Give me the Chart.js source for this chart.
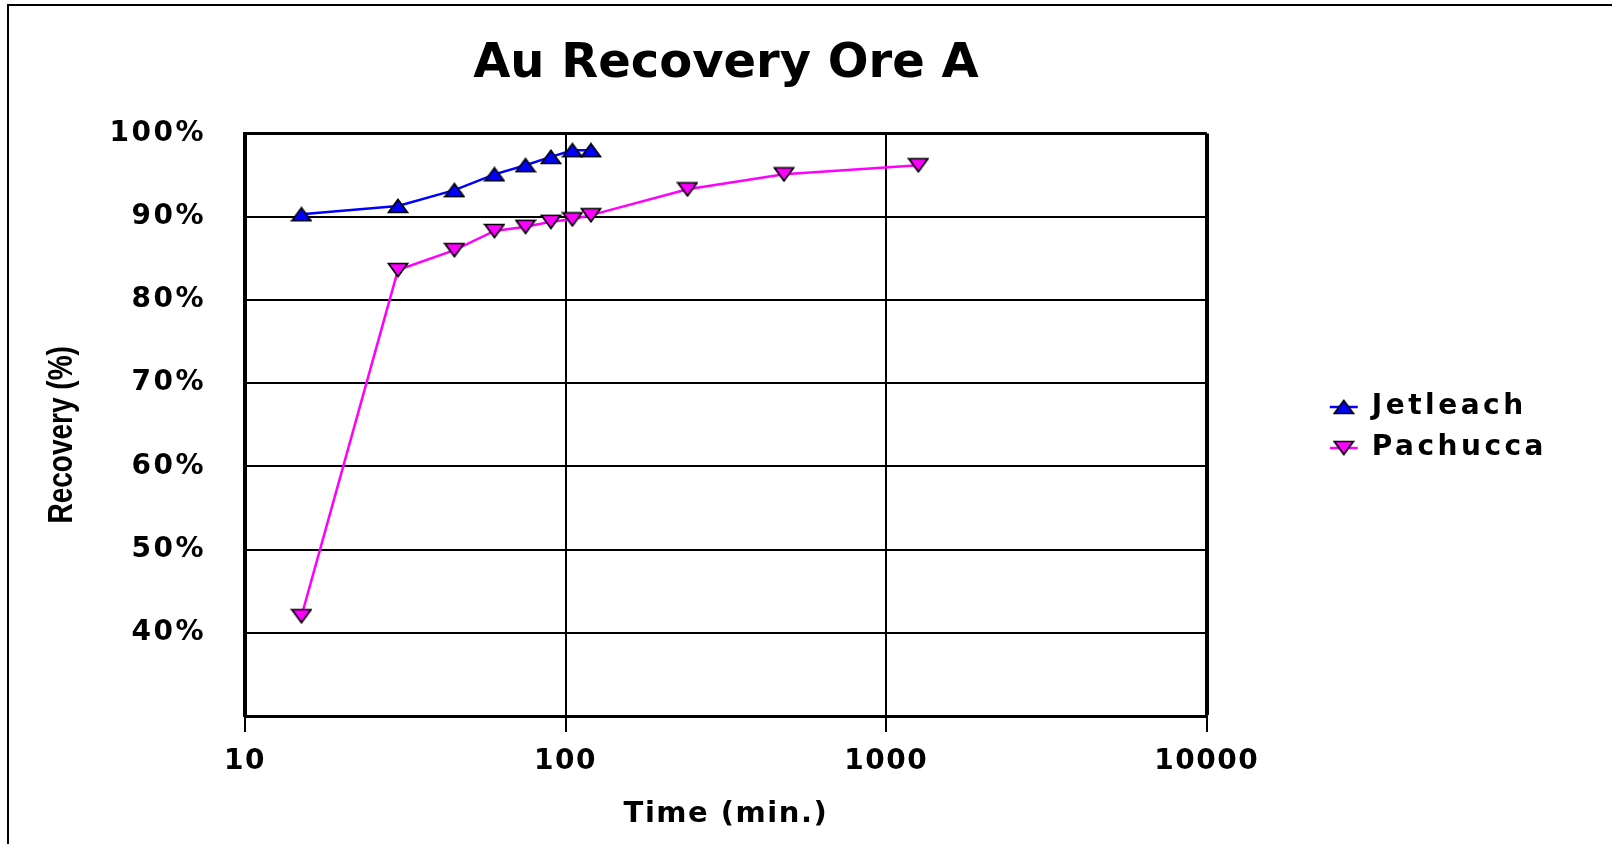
<!DOCTYPE html>
<html><head><meta charset="utf-8">
<script src="https://cdn.jsdelivr.net/npm/chart.js@4/dist/chart.umd.min.js"></script>
<style>html,body{margin:0;padding:0;background:#fff;overflow:hidden}canvas{display:block}</style>
</head><body>
<canvas id="c" width="1612" height="844"></canvas>
<script>
const chartTitle = 'Au Recovery Ore A';
const xAxisTitle = 'Time (min.)';
const yAxisTitle = 'Recovery (%)';
const seriesNames = ['Jetleach', 'Pachucca'];
const jetleachTimes = [15, 30, 45, 60, 75, 90, 105, 120];
const jetleachRecovery = [90.3, 91.3, 93.2, 95.1, 96.2, 97.2, 98.0, 98.0];
const pachuccaTimes = [15, 30, 45, 60, 75, 90, 105, 120, 240, 480, 1260];
const pachuccaRecovery = [42.0, 83.6, 86.0, 88.3, 88.8, 89.4, 89.7, 90.2, 93.3, 95.1, 96.2];
const xTickValues = [10, 100, 1000, 10000];
const yTickValues = [30, 40, 50, 60, 70, 80, 90, 100];

Chart.defaults.font.family = "'DejaVu Sans', sans-serif";
Chart.defaults.font.weight = 'bold';
Chart.defaults.color = '#000';

// marker images: triangle centred in its bounding box (as in the source chart)
function triangleMarker(fill, down) {
  const w = 22, h = 16;
  const cv = document.createElement('canvas');
  cv.width = w; cv.height = h;
  const c = cv.getContext('2d');
  c.beginPath();
  if (down) { c.moveTo(1.5, 1.5); c.lineTo(w - 1.5, 1.5); c.lineTo(w / 2, h - 1.5); }
  else { c.moveTo(w / 2, 1.5); c.lineTo(w - 1.5, h - 1.5); c.lineTo(1.5, h - 1.5); }
  c.closePath();
  c.fillStyle = fill; c.fill();
  c.lineWidth = 1.7; c.strokeStyle = '#000'; c.lineJoin = 'miter'; c.stroke();
  return cv;
}
const upMarker = triangleMarker('#0000ff', false);
const downMarker = triangleMarker('#ff00ff', true);

const LEGEND_SHIFT = 3;

function withSpacing(obj, method, ctx, spacing, pre) {
  const orig = obj[method].bind(obj);
  obj[method] = function (...args) {
    ctx.save();
    if ('letterSpacing' in ctx) ctx.letterSpacing = spacing;
    if (pre) pre(ctx, obj);
    const r = orig(...args);
    ctx.restore();
    return r;
  };
}

const framePlugin = {
  id: 'frame',
  afterInit(chart) {
    const leg = chart.legend;
    if (leg) {
      withSpacing(leg, 'fit', chart.ctx, '3.5px');
      withSpacing(leg, 'draw', chart.ctx, '3.5px', c => c.translate(0, LEGEND_SHIFT));
    }
  },
  beforeDraw(chart) {
    const ctx = chart.ctx;
    const xs = chart.scales.x, ys = chart.scales.y;
    if (xs && !xs._lsPatched) {
      withSpacing(xs, 'drawTitle', ctx, '1.5px');
      withSpacing(xs, 'drawLabels', ctx, '1.5px');
      xs._lsPatched = true;
    }
    if (ys && !ys._lsPatched) {
      withSpacing(ys, 'drawLabels', ctx, '2.5px');
      withSpacing(ys, 'drawTitle', ctx, '0px', (c, s) => {
        const cx = s.left + 36 + 28 * 1.2 / 2;
        c.translate(cx, 10); c.scale(1.25, 1); c.translate(-cx, 0);
      });
      ys._lsPatched = true;
    }
    ctx.save();
    ctx.fillStyle = '#fff'; ctx.fillRect(0, 0, chart.width, chart.height);
    ctx.strokeStyle = '#000'; ctx.lineWidth = 2;
    ctx.beginPath(); ctx.moveTo(8, chart.height); ctx.lineTo(8, 5); ctx.lineTo(chart.width, 5); ctx.stroke();
    const leg = chart.legend;
    if (leg && leg.legendHitBoxes) {
      leg.legendHitBoxes.forEach((hb, i) => {
        const item = leg.legendItems[i];
        const ds = chart.data.datasets[item.datasetIndex];
        const y = hb.top + 14 + LEGEND_SHIFT;
        ctx.strokeStyle = ds.borderColor; ctx.lineWidth = 2.5;
        ctx.beginPath(); ctx.moveTo(hb.left, y); ctx.lineTo(hb.left + 28, y); ctx.stroke();
      });
    }
    ctx.restore();
  }
};

new Chart(document.getElementById('c'), {
  type: 'line',
  data: {
    datasets: [
      {
        label: seriesNames[0], yAxisID: 'y',
        data: jetleachTimes.map((t, i) => ({ x: t, y: jetleachRecovery[i] })),
        borderColor: '#0000ff', backgroundColor: '#0000ff', borderWidth: 2.5,
        pointStyle: upMarker, pointRadius: 9, pointHoverRadius: 9,
        pointBackgroundColor: '#0000ff', pointBorderColor: '#000', pointBorderWidth: 1.5,
        tension: 0, fill: false
      },
      {
        label: seriesNames[1], yAxisID: 'y',
        data: pachuccaTimes.map((t, i) => ({ x: t, y: pachuccaRecovery[i] })),
        borderColor: '#ff00ff', backgroundColor: '#ff00ff', borderWidth: 2.5,
        pointStyle: downMarker, pointRadius: 9, pointHoverRadius: 9,
        pointBackgroundColor: '#ff00ff', pointBorderColor: '#000', pointBorderWidth: 1.5,
        tension: 0, fill: false
      }
    ]
  },
  options: {
    responsive: false, animation: false, devicePixelRatio: 1,
    layout: { padding: { left: 10, top: 5, right: 55, bottom: 0 } },
    plugins: {
      title: { display: true, text: chartTitle, fullSize: false, color: '#000',
        font: { size: 48, weight: 'bold' }, padding: { top: 31, bottom: 40 } },
      legend: { position: 'right', align: 'center',
        labels: { usePointStyle: true, pointStyleWidth: 28, boxHeight: 11, padding: 13, color: '#000',
          font: { size: 28, weight: 'bold' } } },
      tooltip: { enabled: false }
    },
    scales: {
      x: {
        type: 'logarithmic', position: 'bottom', min: 10, max: 10000,
        afterBuildTicks: s => { s.ticks = xTickValues.map(v => ({ value: v })); },
        afterFit: s => { s.height = 128; },
        ticks: { autoSkip: false, maxRotation: 0, padding: 13, font: { size: 28 }, callback: v => String(v) },
        grid: { color: '#000', lineWidth: c => (c.tick && c.tick.value === 10000 ? 4 : 2),
          drawTicks: true, tickLength: 16, tickWidth: 2, tickColor: '#000' },
        border: { display: true, color: '#000', width: 3 },
        title: { display: true, text: xAxisTitle, font: { size: 29 }, padding: { top: 0, bottom: 12 } }
      },
      y: {
        type: 'linear', position: 'left', min: 30, max: 100,
        afterBuildTicks: s => { s.ticks = yTickValues.map(v => ({ value: v })); },
        afterFit: s => { s.width = 235; },
        ticks: { padding: 39, font: { size: 28 }, callback: v => (v === 30 ? '' : v + '%') },
        grid: { color: '#000', lineWidth: c => (c.tick && c.tick.value === 100 ? 3 : 2), drawTicks: false },
        border: { display: true, color: '#000', width: 4 },
        title: { display: true, text: yAxisTitle,
          font: { family: "'Liberation Sans', Arial, sans-serif", size: 28, weight: 'bold' },
          padding: { top: 36, bottom: 0 } }
      },
      y2: {
        type: 'linear', position: 'right', display: true,
        afterFit: s => { s.width = 110; },
        ticks: { display: false }, grid: { display: false, drawTicks: false }, border: { display: false }
      }
    }
  },
  plugins: [framePlugin]
});
</script>
</body></html>
